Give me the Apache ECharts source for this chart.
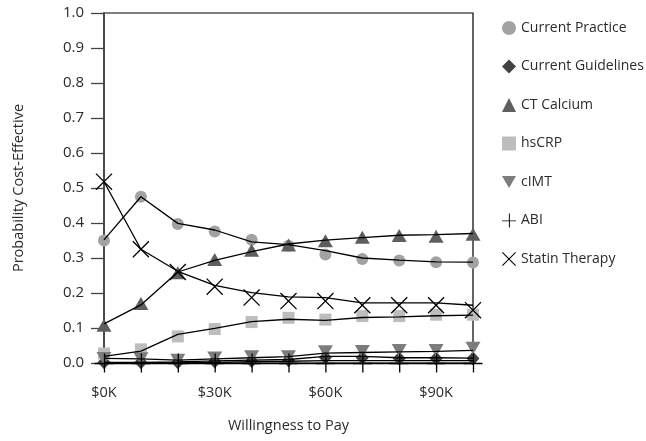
<!DOCTYPE html>
<html>
<head>
<meta charset="utf-8">
<script src="https://cdn.jsdelivr.net/npm/echarts@6/dist/echarts.min.js"></script>
<style>
  html, body { margin: 0; padding: 0; background: #fff; }
  #chart { width: 646px; height: 441px; }
</style>
</head>
<body>
<div id="chart"></div>
<script>
// Willingness to pay (thousands of dollars)
const wtp = [0, 10, 20, 30, 40, 50, 60, 70, 80, 90, 100];
const xTickValues = [0, 30, 60, 90];

// Probability cost-effective: plotted markers
const practicePts   = [0.350, 0.475, 0.397, 0.376, 0.352, 0.335, 0.310, 0.297, 0.293, 0.288, 0.287];
const guidelinePts  = [0.002, 0.002, 0.002, 0.004, 0.006, 0.008, 0.016, 0.015, 0.013, 0.013, 0.013];
const calciumPts    = [0.108, 0.170, 0.258, 0.296, 0.322, 0.337, 0.349, 0.359, 0.364, 0.362, 0.368];
const hscrpPts      = [0.027, 0.039, 0.076, 0.097, 0.117, 0.129, 0.124, 0.134, 0.134, 0.138, 0.138];
const cimtPts       = [0.013, 0.012, 0.008, 0.014, 0.018, 0.018, 0.032, 0.033, 0.036, 0.036, 0.042];
const abiPts        = [0, 0, 0, 0, 0, 0, 0, 0, 0, 0, 0];
const statinPts     = [0.518, 0.325, 0.260, 0.218, 0.187, 0.177, 0.177, 0.165, 0.165, 0.165, 0.151];

// Probability cost-effective: connecting curves
const practiceLine  = [0.352, 0.475, 0.399, 0.380, 0.346, 0.338, 0.321, 0.300, 0.294, 0.289, 0.288];
const guidelineLine = [0.002, 0.002, 0.003, 0.006, 0.008, 0.010, 0.019, 0.019, 0.015, 0.015, 0.014];
const calciumLine   = [0.112, 0.166, 0.260, 0.293, 0.318, 0.340, 0.351, 0.358, 0.365, 0.367, 0.370];
const hscrpLine     = [0.019, 0.034, 0.082, 0.099, 0.118, 0.125, 0.122, 0.130, 0.132, 0.135, 0.137];
const cimtLine      = [0.013, 0.012, 0.008, 0.012, 0.015, 0.018, 0.028, 0.030, 0.032, 0.033, 0.036];
const abiLine       = [0, 0, 0, 0.002, 0.004, 0.005, 0.007, 0.007, 0.007, 0.007, 0.007];
const statinLine    = [0.518, 0.325, 0.262, 0.222, 0.201, 0.189, 0.187, 0.172, 0.172, 0.172, 0.165];

const FONT = 'Open Sans';
const TXT = '#2b2b2b';

// thin filled glyphs for the plus and cross markers, and a downward triangle
const PLUS = 'path://M0,9.35L19,9.35L19,10.65L0,10.65Z M9.35,0L10.65,0L10.65,19L9.35,19Z';
const CROSS = 'path://M0,0.9L0.9,0L17,16.1L16.1,17Z M16.1,0L17,0.9L0.9,17L0,16.1Z';
const DOWN = 'path://M0,0L15,0L7.5,13Z';

const pair = arr => wtp.map((x, i) => [x, arr[i]]);

const groups = [
  { name: 'Current Practice',   pts: practicePts,  line: practiceLine,  symbol: 'circle',   size: 12,       color: '#a2a2a2' },
  { name: 'Current Guidelines', pts: guidelinePts, line: guidelineLine, symbol: 'diamond',  size: [13, 14], color: '#424242' },
  { name: 'CT Calcium',         pts: calciumPts,   line: calciumLine,   symbol: 'triangle', size: [15, 13], color: '#5e5e5e' },
  { name: 'hsCRP',              pts: hscrpPts,     line: hscrpLine,     symbol: 'rect',     size: 12,       color: '#bdbdbd' },
  { name: 'cIMT',               pts: cimtPts,      line: cimtLine,      symbol: DOWN,       size: [15, 13], color: '#7c7c7c' },
  { name: 'ABI',                pts: abiPts,       line: abiLine,       symbol: PLUS,       size: 19,       color: '#000' },
  { name: 'Statin Therapy',     pts: statinPts,    line: statinLine,    symbol: CROSS,      size: 17,       color: '#000' }
];

const series = [];
groups.forEach(g => {
  series.push({
    name: g.name,
    type: 'scatter',
    data: pair(g.pts),
    symbol: g.symbol,
    symbolSize: g.size,
    itemStyle: { color: g.color, opacity: 1 },
    z: 2,
    silent: true
  });
});
groups.forEach(g => {
  series.push({
    name: g.name + ' curve',
    type: 'line',
    data: pair(g.line),
    showSymbol: false,
    symbol: 'none',
    lineStyle: { color: '#000', width: 1.3 },
    z: 3,
    silent: true
  });
});

const chart = echarts.init(document.getElementById('chart'), null, { renderer: 'canvas' });
chart.setOption({
  animation: false,
  backgroundColor: '#fff',
  textStyle: { fontFamily: FONT, color: TXT },
  grid: {
    left: 104, top: 13, width: 369, height: 350,
    show: true, borderColor: '#000', borderWidth: 1.2, backgroundColor: 'transparent'
  },
  legend: {
    orient: 'vertical',
    left: 497,
    top: 16,
    itemWidth: 14,
    itemHeight: 14,
    itemGap: 24.5,
    selectedMode: false,
    data: groups.map(g => g.name),
    textStyle: { fontFamily: FONT, fontSize: 14, color: TXT, padding: [13, 0, 0, 0] }
  },
  xAxis: {
    type: 'value',
    min: 0, max: 100, interval: 10,
    name: 'Willingness to Pay',
    nameLocation: 'middle',
    nameGap: 55,
    nameTextStyle: { fontFamily: FONT, fontSize: 14.5, color: TXT },
    axisLine: { show: true, onZero: false, lineStyle: { color: '#000', width: 1.3 } },
    axisTick: { show: false },
    splitLine: { show: false },
    axisLabel: {
      fontFamily: FONT, fontSize: 14.5, color: TXT, margin: 22,
      showMaxLabel: false,
      formatter: v => xTickValues.indexOf(v) >= 0 ? '$' + v + 'K' : ''
    }
  },
  yAxis: {
    type: 'value',
    min: 0, max: 1, interval: 0.1,
    name: 'Probability Cost-Effective',
    nameLocation: 'middle',
    nameRotate: 90,
    nameGap: 78,
    nameTextStyle: { fontFamily: FONT, fontSize: 14.5, color: TXT },
    axisLine: { show: true, lineStyle: { color: '#444', width: 1.6 } },
    axisTick: { show: true, inside: false, length: 13, lineStyle: { color: '#444', width: 1.3 } },
    splitLine: { show: false },
    axisLabel: {
      fontFamily: FONT, fontSize: 15, color: TXT, margin: 20,
      formatter: v => v.toFixed(1)
    }
  },
  series: series
});
</script>
</body>
</html>
